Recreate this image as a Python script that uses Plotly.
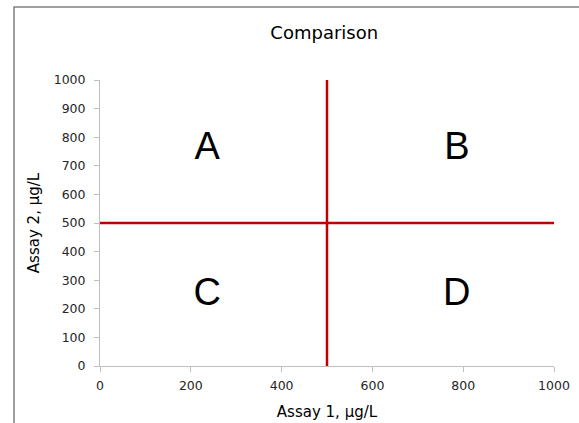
import plotly.graph_objects as go

# Data
x_range = [0, 1000]
y_range = [0, 1000]
tick_vals = [0, 200, 400, 600, 800, 1000]
y_tick_vals = [0, 100, 200, 300, 400, 500, 600, 700, 800, 900, 1000]
threshold_x = 500
threshold_y = 500
quad_labels = ["A", "B", "C", "D"]
quad_x = [236, 786, 236, 786]
quad_y = [756, 756, 245, 245]

fig = go.Figure()

# vertical threshold line
fig.add_trace(go.Scatter(x=[threshold_x, threshold_x], y=y_range, mode="lines",
                         line=dict(color="#C00000", width=2.5), showlegend=False, hoverinfo="skip"))
# horizontal threshold line
fig.add_trace(go.Scatter(x=x_range, y=[threshold_y, threshold_y], mode="lines",
                         line=dict(color="#C00000", width=2.5), showlegend=False, hoverinfo="skip"))
# quadrant labels
fig.add_trace(go.Scatter(x=quad_x, y=quad_y, mode="text", text=quad_labels,
                         textfont=dict(size=38, color="black", family="Liberation Sans"),
                         showlegend=False, hoverinfo="skip"))

axis_common = dict(showgrid=False, zeroline=False, showline=True, linecolor="#BFBFBF",
                   linewidth=1, ticks="outside", tickcolor="#BFBFBF", ticklen=5,
                   automargin=False,
                   tickfont=dict(size=12.5, color="#262626", family="DejaVu Sans"))

fig.update_layout(
    width=579, height=423, autosize=False,
    margin=dict(l=100, r=25, t=80, b=57, autoexpand=False),
    paper_bgcolor="white", plot_bgcolor="white",
    title=dict(text="Comparison", x=0.56, xanchor="center", y=0.922, yanchor="middle",
               font=dict(size=18, color="black", family="DejaVu Sans")),
    xaxis=dict(range=x_range, tickvals=tick_vals, ticklabelstandoff=3,
               title=dict(text="Assay 1, µg/L", standoff=14,
                          font=dict(size=15, color="black", family="DejaVu Sans")), **axis_common),
    yaxis=dict(range=y_range, tickvals=y_tick_vals, ticklabelstandoff=6,
               title=dict(text="Assay 2, µg/L", standoff=10,
                          font=dict(size=15, color="black", family="DejaVu Sans")), **axis_common),
    shapes=[dict(type="rect", xref="paper", yref="paper",
                 x0=(14 - 100) / 454, x1=1.2, y0=-0.5, y1=(366 - 7) / 286,
                 line=dict(color="#808080", width=1.5), fillcolor="rgba(0,0,0,0)", layer="below")],
)

fig.write_html("out.html", config={"displayModeBar": False},
               post_script="document.body.style.margin='0px';")
